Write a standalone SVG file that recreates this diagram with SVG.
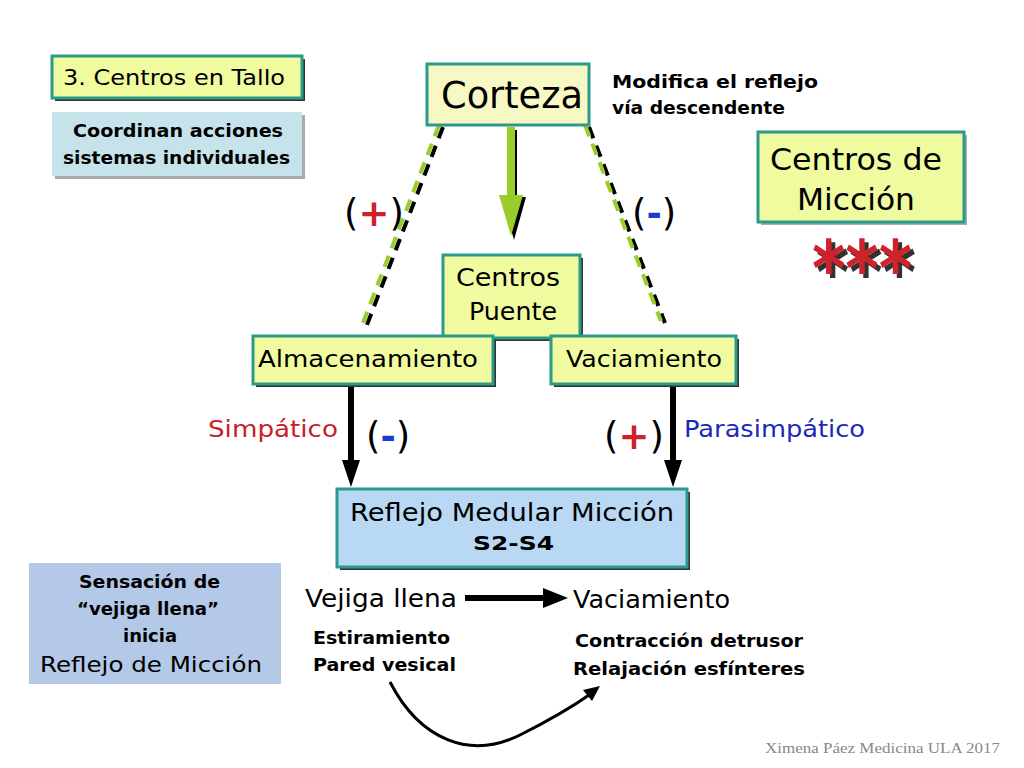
<svg xmlns="http://www.w3.org/2000/svg" width="1024" height="768" viewBox="0 0 1024 768">
<defs>
<style>
text{font-family:"DejaVu Sans","Liberation Sans",Arial,sans-serif;fill:#000}
.b{font-weight:bold}
.box{stroke:#2a9a8c;stroke-width:3}
.y{fill:#f0fba0}
.sh{fill:#333}
.shl{fill:#aaa}
</style>
<filter id="ds" x="-20%" y="-20%" width="140%" height="140%">
  <feOffset in="SourceAlpha" dx="4" dy="4" result="o"/>
  <feFlood flood-color="#333"/>
  <feComposite in2="o" operator="in" result="s"/>
  <feMerge><feMergeNode in="s"/><feMergeNode in="SourceGraphic"/></feMerge>
</filter>
</defs>
<rect width="1024" height="768" fill="#fff"/>

<g id="connectors">
  <line x1="443" y1="127" x2="365" y2="330" stroke="#000" stroke-width="4" stroke-dasharray="12,8"/>
  <line x1="439" y1="125" x2="361" y2="328" stroke="#9acd2a" stroke-width="4" stroke-dasharray="12,8"/>
  <line x1="589" y1="127" x2="665" y2="323" stroke="#000" stroke-width="4" stroke-dasharray="12,8"/>
  <line x1="585" y1="125" x2="661" y2="321" stroke="#9acd2a" stroke-width="4" stroke-dasharray="12,8"/>
  <path d="M513,130 L513,197 L502,197 L514,240 L526,197 L517,197 L517,130 z" fill="#000"/>
  <path d="M507,127 L507,195 L499,195 L511,236 L523,195 L515,195 L515,127 z" fill="#9acd2a"/>
  <line x1="351" y1="385" x2="351" y2="462" stroke="#000" stroke-width="6"/>
  <path d="M342,460 L360,460 L351,487 z" fill="#000"/>
  <line x1="673" y1="385" x2="673" y2="462" stroke="#000" stroke-width="6"/>
  <path d="M664,460 L682,460 L673,487 z" fill="#000"/>
  <line x1="465" y1="598" x2="545" y2="598" stroke="#000" stroke-width="6"/>
  <path d="M543,588 L568,598 L543,608 z" fill="#000"/>
  <path d="M390,682 C420,740 470,760 520,735 C550,720 575,705 592,693" fill="none" stroke="#000" stroke-width="3"/>
  <path d="M600,686 L583,690 L592,701 z" fill="#000"/>
</g>

<g id="tallo">
  <rect x="55" y="59" width="250" height="42" class="sh"/>
  <rect x="52" y="56" width="250" height="42" class="box y"/>
  <text x="63" y="85" font-size="21" textLength="222" lengthAdjust="spacingAndGlyphs">3. Centros en Tallo</text>
</g>

<g id="coordinan">
  <rect x="55" y="115" width="250" height="64" class="shl"/>
  <rect x="52" y="112" width="250" height="64" fill="#c6e2ea"/>
  <text x="73" y="137" font-size="18" class="b" textLength="210" lengthAdjust="spacingAndGlyphs">Coordinan acciones</text>
  <text x="63" y="164" font-size="18" class="b" textLength="227" lengthAdjust="spacingAndGlyphs">sistemas individuales</text>
</g>

<g id="corteza">
  <rect x="427" y="64" width="162" height="61" class="box" fill="#f8f8c4"/>
  <text x="441" y="108" font-size="38" textLength="142" lengthAdjust="spacingAndGlyphs">Corteza</text>
</g>

<g id="modifica">
  <text x="612" y="88" font-size="17" class="b" textLength="206" lengthAdjust="spacingAndGlyphs">Modifica el reflejo</text>
  <text x="612" y="114" font-size="17" class="b" textLength="173" lengthAdjust="spacingAndGlyphs">vía descendente</text>
</g>

<g id="centros-miccion">
  <rect x="761" y="135" width="206" height="90" class="shl"/>
  <rect x="758" y="132" width="206" height="90" class="box y"/>
  <text x="770" y="170" font-size="31" textLength="172" lengthAdjust="spacingAndGlyphs">Centros de</text>
  <text x="797" y="210" font-size="31" textLength="118" lengthAdjust="spacingAndGlyphs">Micción</text>
</g>

<g id="stars">
  <text x="812" y="295" font-size="76" class="b" style="fill:#d0202a" filter="url(#ds)" textLength="100" lengthAdjust="spacingAndGlyphs">***</text>
</g>

<g id="signs-top">
  <text x="344" y="226" font-size="37">(<tspan style="fill:#d0202a" class="b">+</tspan>)</text>
  <text x="632" y="226" font-size="37">(<tspan style="fill:#1a3ad0" class="b">-</tspan>)</text>
</g>

<g id="puente">
  <rect x="446" y="258" width="137" height="83" class="sh"/>
  <rect x="443" y="255" width="137" height="83" class="box y"/>
  <text x="456" y="286" font-size="25" textLength="104" lengthAdjust="spacingAndGlyphs">Centros</text>
  <text x="469" y="320" font-size="25" textLength="88" lengthAdjust="spacingAndGlyphs">Puente</text>
</g>

<g id="almacenamiento">
  <rect x="256" y="339" width="240" height="48" class="sh"/>
  <rect x="253" y="336" width="240" height="48" class="box y"/>
  <text x="258" y="367" font-size="23" textLength="220" lengthAdjust="spacingAndGlyphs">Almacenamiento</text>
</g>

<g id="vaciamiento-box">
  <rect x="554" y="339" width="185" height="48" class="sh"/>
  <rect x="551" y="336" width="185" height="48" class="box y"/>
  <text x="566" y="367" font-size="23" textLength="156" lengthAdjust="spacingAndGlyphs">Vaciamiento</text>
</g>

<g id="labels-mid">
  <text x="208" y="437" font-size="23" style="fill:#c81e28" textLength="130" lengthAdjust="spacingAndGlyphs">Simpático</text>
  <text x="366" y="449" font-size="37">(<tspan style="fill:#1a3ad0" class="b">-</tspan>)</text>
  <text x="604" y="449" font-size="37">(<tspan style="fill:#d0202a" class="b">+</tspan>)</text>
  <text x="684" y="437" font-size="23" style="fill:#1a2ab8" textLength="181" lengthAdjust="spacingAndGlyphs">Parasimpático</text>
</g>

<g id="reflejo">
  <rect x="340" y="492" width="350" height="78" class="sh"/>
  <rect x="337" y="489" width="350" height="78" class="box" fill="#b8d8f4"/>
  <text x="350" y="521" font-size="24" textLength="324" lengthAdjust="spacingAndGlyphs">Reflejo Medular Micción</text>
  <text x="473" y="550" font-size="20" class="b" textLength="81" lengthAdjust="spacingAndGlyphs">S2-S4</text>
</g>

<g id="sensacion">
  <rect x="29" y="563" width="252" height="121" fill="#b4c8e8"/>
  <text x="79" y="588" font-size="18" class="b" textLength="141" lengthAdjust="spacingAndGlyphs">Sensación de</text>
  <text x="77" y="615" font-size="18" class="b" textLength="142" lengthAdjust="spacingAndGlyphs">“vejiga llena”</text>
  <text x="123" y="642" font-size="18" class="b" textLength="54" lengthAdjust="spacingAndGlyphs">inicia</text>
  <text x="40" y="672" font-size="22" textLength="222" lengthAdjust="spacingAndGlyphs">Reflejo de Micción</text>
</g>

<g id="vejiga">
  <text x="305" y="607" font-size="24" textLength="152" lengthAdjust="spacingAndGlyphs">Vejiga llena</text>
  <text x="313" y="644" font-size="18" class="b" textLength="137" lengthAdjust="spacingAndGlyphs">Estiramiento</text>
  <text x="313" y="671" font-size="18" class="b" textLength="143" lengthAdjust="spacingAndGlyphs">Pared vesical</text>
</g>

<g id="vaciamiento-txt">
  <text x="573" y="608" font-size="24" textLength="157" lengthAdjust="spacingAndGlyphs">Vaciamiento</text>
  <text x="575" y="647" font-size="18" class="b" textLength="228" lengthAdjust="spacingAndGlyphs">Contracción detrusor</text>
  <text x="573" y="675" font-size="18" class="b" textLength="232" lengthAdjust="spacingAndGlyphs">Relajación esfínteres</text>
</g>

<text x="765" y="753" font-size="15" textLength="235" lengthAdjust="spacingAndGlyphs" style="font-family:'Liberation Serif','Times New Roman',serif;fill:#888">Ximena Páez Medicina ULA 2017</text>
</svg>
